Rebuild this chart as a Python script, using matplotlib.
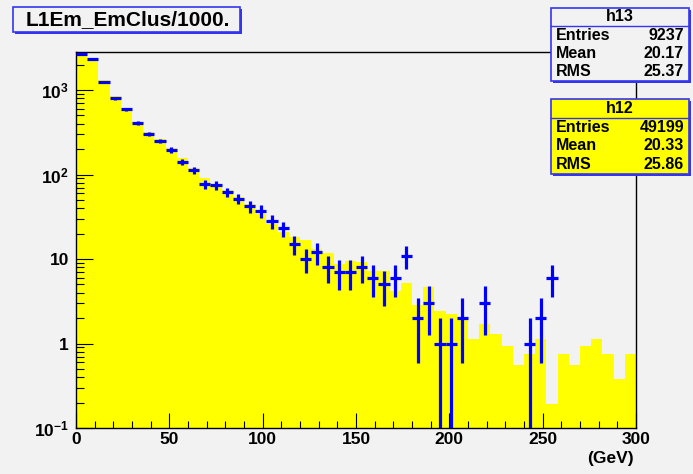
import matplotlib.pyplot as plt
import matplotlib.patches as mpatches
import matplotlib.ticker as mticker
import numpy as np

plt.rcParams['font.family'] = ['Liberation Sans', 'DejaVu Sans']
plt.rcParams['font.weight'] = 'bold'
plt.rcParams['mathtext.fontset'] = 'custom'
plt.rcParams['mathtext.rm'] = 'Liberation Sans:bold'
plt.rcParams['mathtext.bf'] = 'Liberation Sans:bold'
plt.rcParams['mathtext.default'] = 'rm'

# binning: 50 bins of 6 GeV from 0 to 300
n_bins = 50
x_min, x_max = 0.0, 300.0

# h13: data points (counts per bin, 0 = empty bin)
h13 = [2655, 2312, 1254, 798, 590, 409, 303, 250, 196, 140,
       112, 77, 75, 62, 52, 42, 37, 28, 23, 15,
       10, 12, 8, 7, 7, 8, 6, 5, 6, 11,
       2, 3, 1, 1, 2, 0, 3, 0, 0, 0,
       1, 2, 6, 0, 0, 0, 0, 0, 0, 0]

# h12: reference histogram, normalised to h13
h12 = [2720, 2375, 1314, 849, 617, 421, 320, 264, 207, 155,
       119, 92, 77, 66, 54, 45, 34, 26, 21, 18,
       16.9, 13.2, 11.9, 8.8, 9.4, 9.2, 7.3, 7.3, 4.13, 5.26,
       2.82, 4.69, 2.44, 2.25, 2.07, 1.13, 1.69, 1.31, 0.94, 0.56,
       0.75, 1.13, 0.19, 0.75, 0.56, 0.94, 1.13, 0.75, 0.38, 0.75]

stats_h13 = [('Entries', '9237'), ('Mean', '20.17'), ('RMS', '25.37')]
stats_h12 = [('Entries', '49199'), ('Mean', '20.33'), ('RMS', '25.86')]

title = 'L1Em_EmClus/1000.'
x_label = '(GeV)'
y_ticks = [0.1, 1, 10, 100, 1000]
y_tick_labels = [r'$10^{-1}$', '1', '10', r'$10^{2}$', r'$10^{3}$']

bg = '#f2f2f2'
box_blue = '#3535f0'
W, H = 693, 474

fig = plt.figure(figsize=(W / 100, H / 100), dpi=100, facecolor=bg)
ax = fig.add_axes([76 / W, 1 - 428 / H, 560 / W, (428 - 51.7) / H])
ax.set_facecolor(bg)

edges = np.linspace(x_min, x_max, n_bins + 1)
centers = 0.5 * (edges[:-1] + edges[1:])
half = 0.5 * (edges[1] - edges[0])

ax.stairs(h12, edges, fill=True, color='#ffff00', baseline=1e-3, zorder=1)

n = np.array(h13, dtype=float)
keep = n > 0
err = np.sqrt(n[keep])
low = np.minimum(err, n[keep] * 0.9999)
ax.errorbar(centers[keep], n[keep], xerr=half, yerr=[low, err],
            fmt='none', ecolor='#0000ff', elinewidth=2.3, capsize=0, zorder=3)

ax.set_yscale('log')
ax.set_xlim(x_min, x_max)
ax.set_ylim(0.1, 10 ** 3.454)

ax.xaxis.set_major_locator(mticker.MultipleLocator(50))
ax.xaxis.set_minor_locator(mticker.MultipleLocator(10))
ax.yaxis.set_major_locator(mticker.FixedLocator(y_ticks))
ax.yaxis.set_major_formatter(mticker.FixedFormatter(y_tick_labels))
ax.yaxis.set_minor_locator(mticker.LogLocator(base=10, subs=np.arange(2, 10)))
ax.yaxis.set_minor_formatter(mticker.NullFormatter())

ax.tick_params(axis='x', which='major', direction='in', length=10.5, width=0.8,
               labelsize=12.5, pad=3)
ax.tick_params(axis='x', which='minor', direction='in', length=5.4, width=0.8)
ax.tick_params(axis='y', which='major', direction='in', length=12.2, width=0.8,
               labelsize=12.5, pad=5)
ax.tick_params(axis='y', which='minor', direction='in', length=5.8, width=0.8)
for lab in ax.get_xticklabels() + ax.get_yticklabels():
    lab.set_fontweight('bold')
for side in ax.spines.values():
    side.set_linewidth(1.0)
    side.set_color('black')

fig.text(634 / W, 1 - 459 / H, x_label, ha='right', va='center',
         fontsize=12.5, fontweight='bold')


def px_box(x0, y0, x1, y1, face):
    # box with a small drop shadow, given in pixel coordinates from the top-left
    shadow = mpatches.Rectangle((x0 / W + 2 / W, 1 - y1 / H - 2 / H),
                                (x1 - x0) / W, (y1 - y0) / H,
                                transform=fig.transFigure, facecolor=box_blue,
                                edgecolor='none', zorder=4)
    box = mpatches.Rectangle((x0 / W, 1 - y1 / H), (x1 - x0) / W, (y1 - y0) / H,
                             transform=fig.transFigure, facecolor=face,
                             edgecolor=box_blue, linewidth=1.2, zorder=5)
    fig.add_artist(shadow)
    fig.add_artist(box)


def stats_box(name, rows, y0, y1, face):
    x0, x1 = 551, 689
    px_box(x0, y0, x1, y1, face)
    step = (y1 - y0) / 4.0
    fig.text((x0 + x1) / 2 / W, 1 - (y0 + step * 0.5) / H, name, ha='center',
             va='center', fontsize=11.5, fontweight='bold', zorder=6)
    fig.add_artist(plt.Line2D([x0 / W, x1 / W], [1 - (y0 + step) / H] * 2,
                              transform=fig.transFigure, color=box_blue,
                              linewidth=1.0, zorder=6))
    for i, (key, val) in enumerate(rows):
        yc = 1 - (y0 + step * (i + 1.5)) / H
        fig.text(556 / W, yc, key, ha='left', va='center', fontsize=11.5,
                 fontweight='bold', zorder=6)
        fig.text(684 / W, yc, val, ha='right', va='center', fontsize=11.5,
                 fontweight='bold', zorder=6)


stats_box('h13', stats_h13, 7.5, 81, bg)
stats_box('h12', stats_h12, 99, 174, '#ffff00')

px_box(13, 7, 240, 32, bg)
fig.text(128 / W, 1 - 20 / H, title, ha='center', va='center', fontsize=15,
         fontweight='bold', zorder=6)

fig.savefig('out.png', dpi=100, facecolor=bg)
